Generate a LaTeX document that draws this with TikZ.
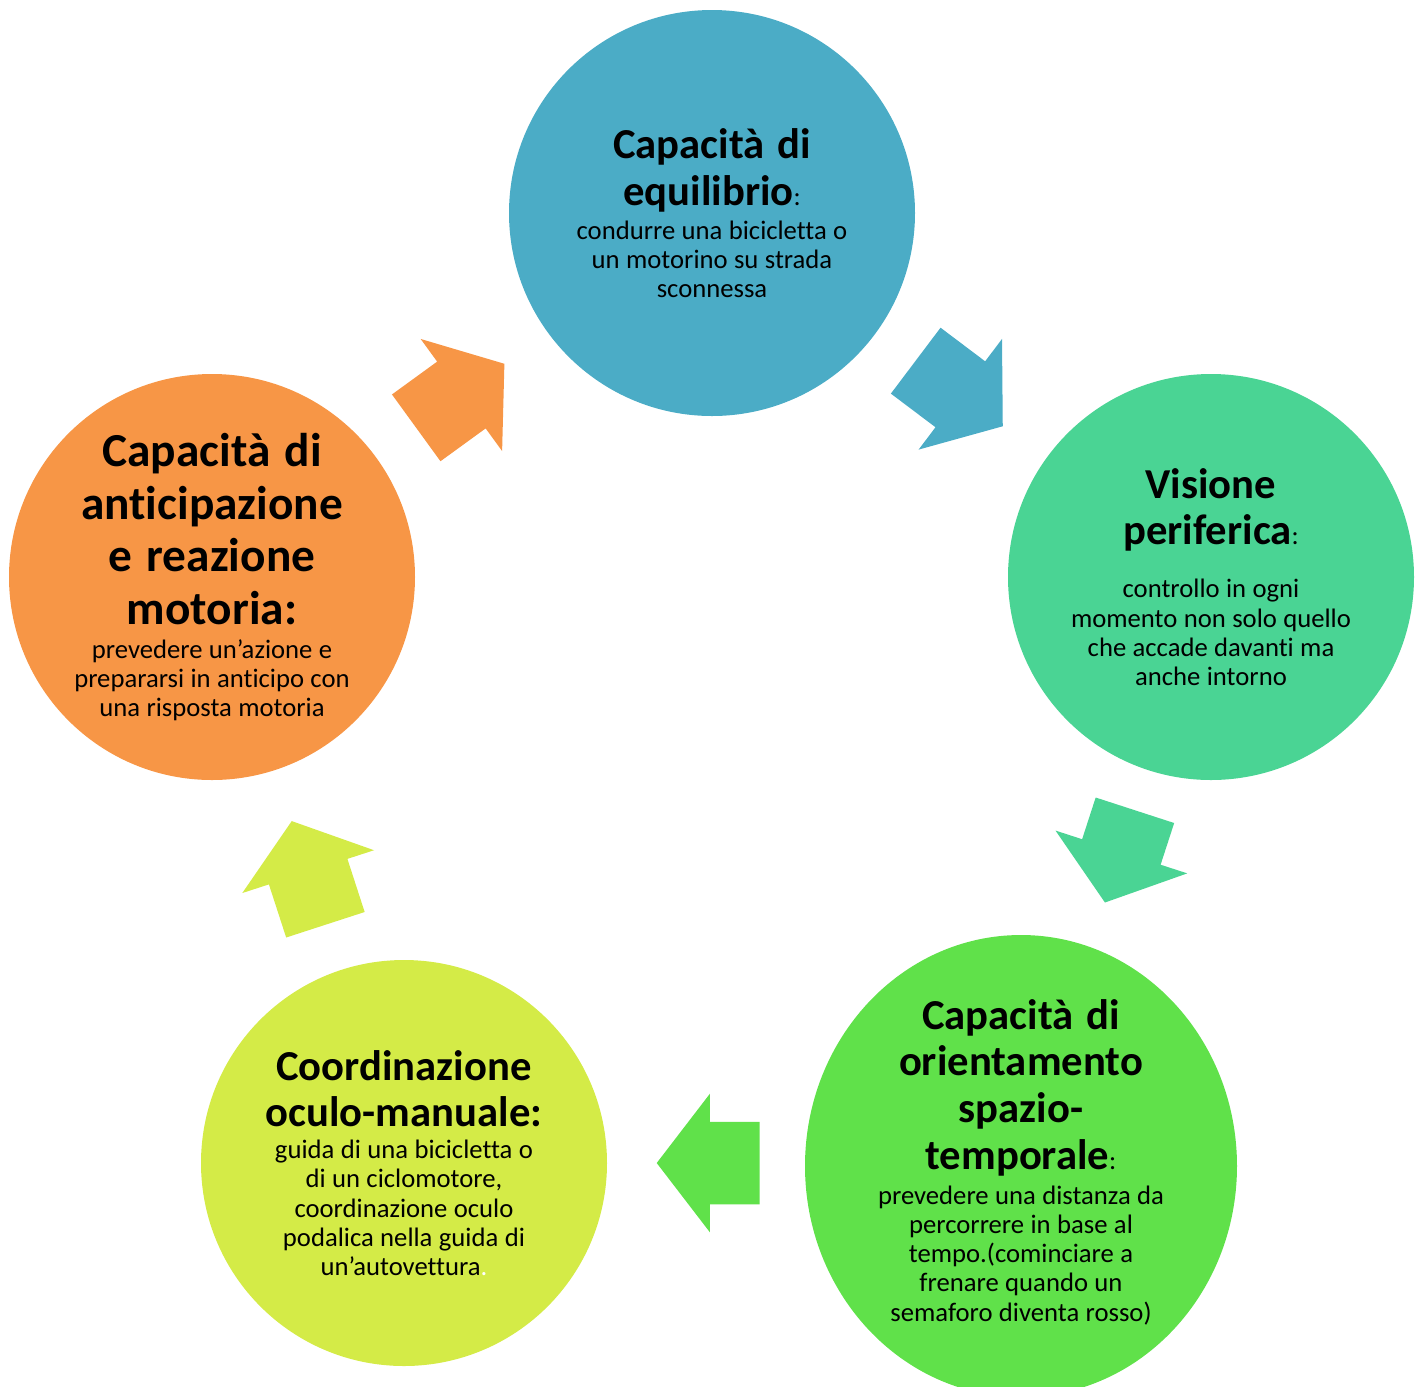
\documentclass[tikz,border=0pt]{standalone}
\usepackage{fontspec}
\setmainfont{Carlito}[Ligatures=NoCommon]
\usetikzlibrary{shapes.geometric,shapes.arrows}

\definecolor{equilblue}{HTML}{4BACC6}
\definecolor{visionteal}{HTML}{4AD494}
\definecolor{orientgreen}{HTML}{60E14A}
\definecolor{coordlime}{HTML}{D4EB47}
\definecolor{anticorange}{HTML}{F79646}

\newcommand{\ttl}{\fontsize{32}{35}\selectfont\bfseries\spaceskip=0.3em\relax}
\newcommand{\bigttl}{\fontsize{35.5}{39.4}\selectfont\bfseries\spaceskip=0.3em\relax}
\newcommand{\bdy}{\fontsize{20}{21.9}\selectfont\mdseries\spaceskip=0.24em\relax}

\begin{document}
\begin{tikzpicture}[
  x=0.75pt, y=-0.75pt,
  bubble/.style={circle, minimum size=304.5pt, inner sep=0pt},
  blurb/.style={text width=320pt, align=center, inner sep=0pt},
  blockarrow/.style={single arrow, anchor=tail, inner xsep=0pt, inner ysep=30.75pt,
    single arrow head extend=21pt, single arrow tip angle=105,
    minimum height=81.75pt, minimum width=1pt}
]
\useasboundingbox (0,0) rectangle (1425,1386);

% Capacita di equilibrio
\node[bubble, fill=equilblue] (equil) at (712,213) {};
\node[blurb] (equiltext) at (equil) {
  {\ttl Capacità di\\ equilibrio{\bdy :}\par}\vskip3.6pt
  {\bdy condurre una bicicletta o\\ un motorino su strada\\ sconnessa\par}
};

% Visione periferica
\node[bubble, fill=visionteal] (vision) at (1211,577) {};
\node[blurb] (visiontext) at (vision) {
  {\ttl Visione\\ periferica{\bdy :}\par}\vskip17.8pt
  {\bdy controllo in ogni\\ momento non solo quello\\ che accade davanti ma\\ anche intorno\par}
};

% Capacita di orientamento spazio-temporale
\node[ellipse, fill=orientgreen, minimum width=324pt, minimum height=346.5pt, inner sep=0pt] (orient) at (1021,1166) {};
\node[blurb] (orienttext) at (1021,1162) {
  {\ttl Capacità di\\ orientamento\\ spazio-\\ temporale{\bdy :}\par}\vskip4.4pt
  {\bdy prevedere una distanza da\\ percorrere in base al\\ tempo.(cominciare a\\ frenare quando un\\ semaforo diventa rosso)\par}
};

% Coordinazione oculo-manuale
\node[bubble, fill=coordlime] (coord) at (404,1163) {};
\node[blurb] (coordtext) at (coord) {
  {\ttl Coordinazione\\ oculo-manuale:\par}\vskip2pt
  {\bdy guida di una bicicletta o\\ di un ciclomotore,\\ coordinazione oculo\\ podalica nella guida di\\ un’autovettura\textcolor{white}{.}\par}
};

% Capacita di anticipazione e reazione motoria
\node[bubble, fill=anticorange] (antic) at (212,577) {};
\node[blurb] (antictext) at (antic) {
  {\bigttl Capacità di\\ anticipazione\\ e reazione\\ motoria:\par}\vskip3.6pt
  {\bdy prevedere un’azione e\\ prepararsi in anticipo con\\ una risposta motoria\par}
};

% Block arrows round the cycle
\node[blockarrow, fill=anticorange, rotate=36] (toequil) at (416,428) {};
\node[blockarrow, fill=equilblue, rotate=-37] (tovision) at (915.5,360.5) {};
\node[blockarrow, fill=visionteal, rotate=-108, minimum height=72.75pt] (toorient) at (1135,810) {};
\node[blockarrow, fill=orientgreen, rotate=180, minimum height=77.25pt] (tocoord) at (760,1163) {};
\node[blockarrow, fill=coordlime, rotate=108] (toantic) at (325.5,925) {};

\end{tikzpicture}
\end{document}
